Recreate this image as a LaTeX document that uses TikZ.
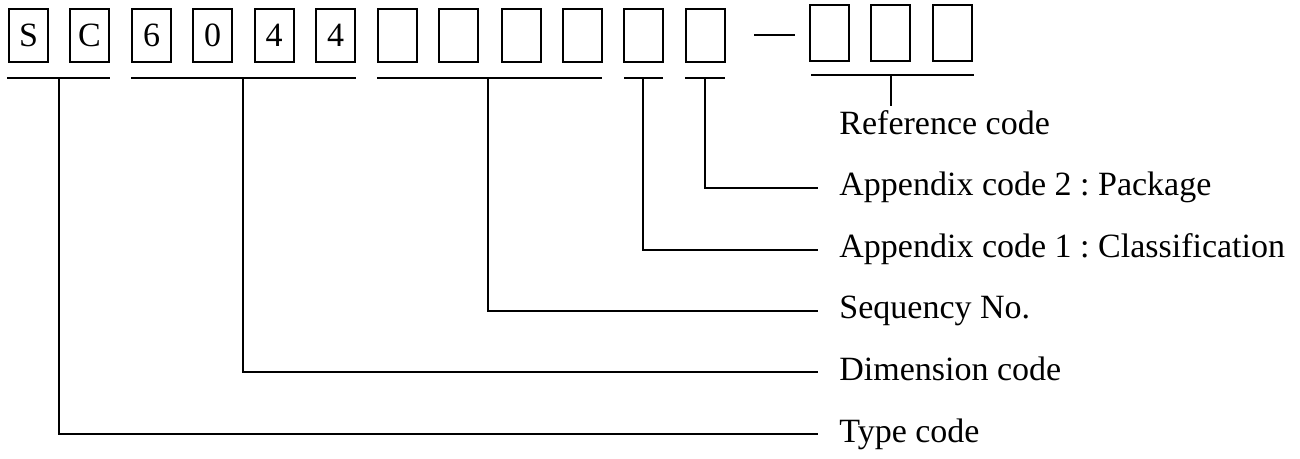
\documentclass[tikz,border=0pt]{standalone}
\usepackage{fontspec}
\setmainfont{Liberation Serif}
\frenchspacing

\begin{document}
\begin{tikzpicture}%
    [x=0.5pt, y=-0.5pt,
    digit/.style={draw=black, line width=1pt, minimum width=19.5pt, minimum height=26.5pt, inner sep=0pt, font=\fontsize{17}{17}\selectfont},
    refdigit/.style={digit, minimum height=28pt},
    bar/.style={line width=1pt},
    caption/.style={anchor=west, inner xsep=10.5pt, inner ysep=0pt, text height=12pt, text depth=4pt, font=\fontsize{17}{17}\selectfont}]

    \useasboundingbox (0,0) rectangle (1300,459);

    % code boxes
    \node [digit] (s)  at ( 28.5, 35.5) {S};
    \node [digit] (c)  at ( 89.5, 35.5) {C};
    \node [digit] (d1) at (151.5, 35.5) {6};
    \node [digit] (d2) at (212.5, 35.5) {0};
    \node [digit] (d3) at (274,   35.5) {4};
    \node [digit] (d4) at (335.5, 35.5) {4};
    \node [digit] (n1) at (397,   35.5) {};
    \node [digit] (n2) at (458.5, 35.5) {};
    \node [digit] (n3) at (521.5, 35.5) {};
    \node [digit] (n4) at (582.5, 35.5) {};
    \node [digit] (a1) at (643.5, 35.5) {};
    \node [digit] (a2) at (705,   35.5) {};

    \coordinate (dashL) at (754, 35);
    \coordinate (dashR) at (795, 35);
    \draw [bar] (dashL) -- (dashR);

    \node [refdigit] (r1) at (829,   33) {};
    \node [refdigit] (r2) at (890.5, 33) {};
    \node [refdigit] (r3) at (952,   33) {};

    % brackets under the groups
    \coordinate (typeL) at (7, 78);    \coordinate (typeR) at (110, 78);  \coordinate (typeT) at (59, 78);
    \coordinate (dimL)  at (131, 78);  \coordinate (dimR)  at (356, 78);  \coordinate (dimT)  at (243, 78);
    \coordinate (seqL)  at (377, 78);  \coordinate (seqR)  at (602, 78);  \coordinate (seqT)  at (488, 78);
    \coordinate (apaL)  at (624, 78);  \coordinate (apaR)  at (663, 78);  \coordinate (apaT)  at (643, 78);
    \coordinate (apbL)  at (685, 78);  \coordinate (apbR)  at (725, 78);  \coordinate (apbT)  at (705, 78);
    \coordinate (refL)  at (811, 75);  \coordinate (refR)  at (974, 75);  \coordinate (refT)  at (891, 75);

    \draw [bar] (typeL) -- (typeR);
    \draw [bar] (dimL) -- (dimR);
    \draw [bar] (seqL) -- (seqR);
    \draw [bar] (apaL) -- (apaR);
    \draw [bar] (apbL) -- (apbR);
    \draw [bar] (refL) -- (refR);

    % captions
    \node [caption, anchor=north west, inner ysep=2pt] (refcap) at (818, 106) {Reference code};
    \node [caption] (apbcap)  at (818, 188) {Appendix code 2 : Package};
    \node [caption] (apacap)  at (818, 250) {Appendix code 1 : Classification};
    \node [caption] (seqcap)  at (818, 311) {Sequency No.};
    \node [caption] (dimcap)  at (818, 372) {Dimension code};
    \node [caption] (typecap) at (818, 434) {Type code};

    \draw [bar] (refT) -- (refT |- refcap.north);
    \draw [bar] (apbT) |- (apbcap.west);
    \draw [bar] (apaT) |- (apacap.west);
    \draw [bar] (seqT) |- (seqcap.west);
    \draw [bar] (dimT) |- (dimcap.west);
    \draw [bar] (typeT) |- (typecap.west);
  \end{tikzpicture}
\end{document}
